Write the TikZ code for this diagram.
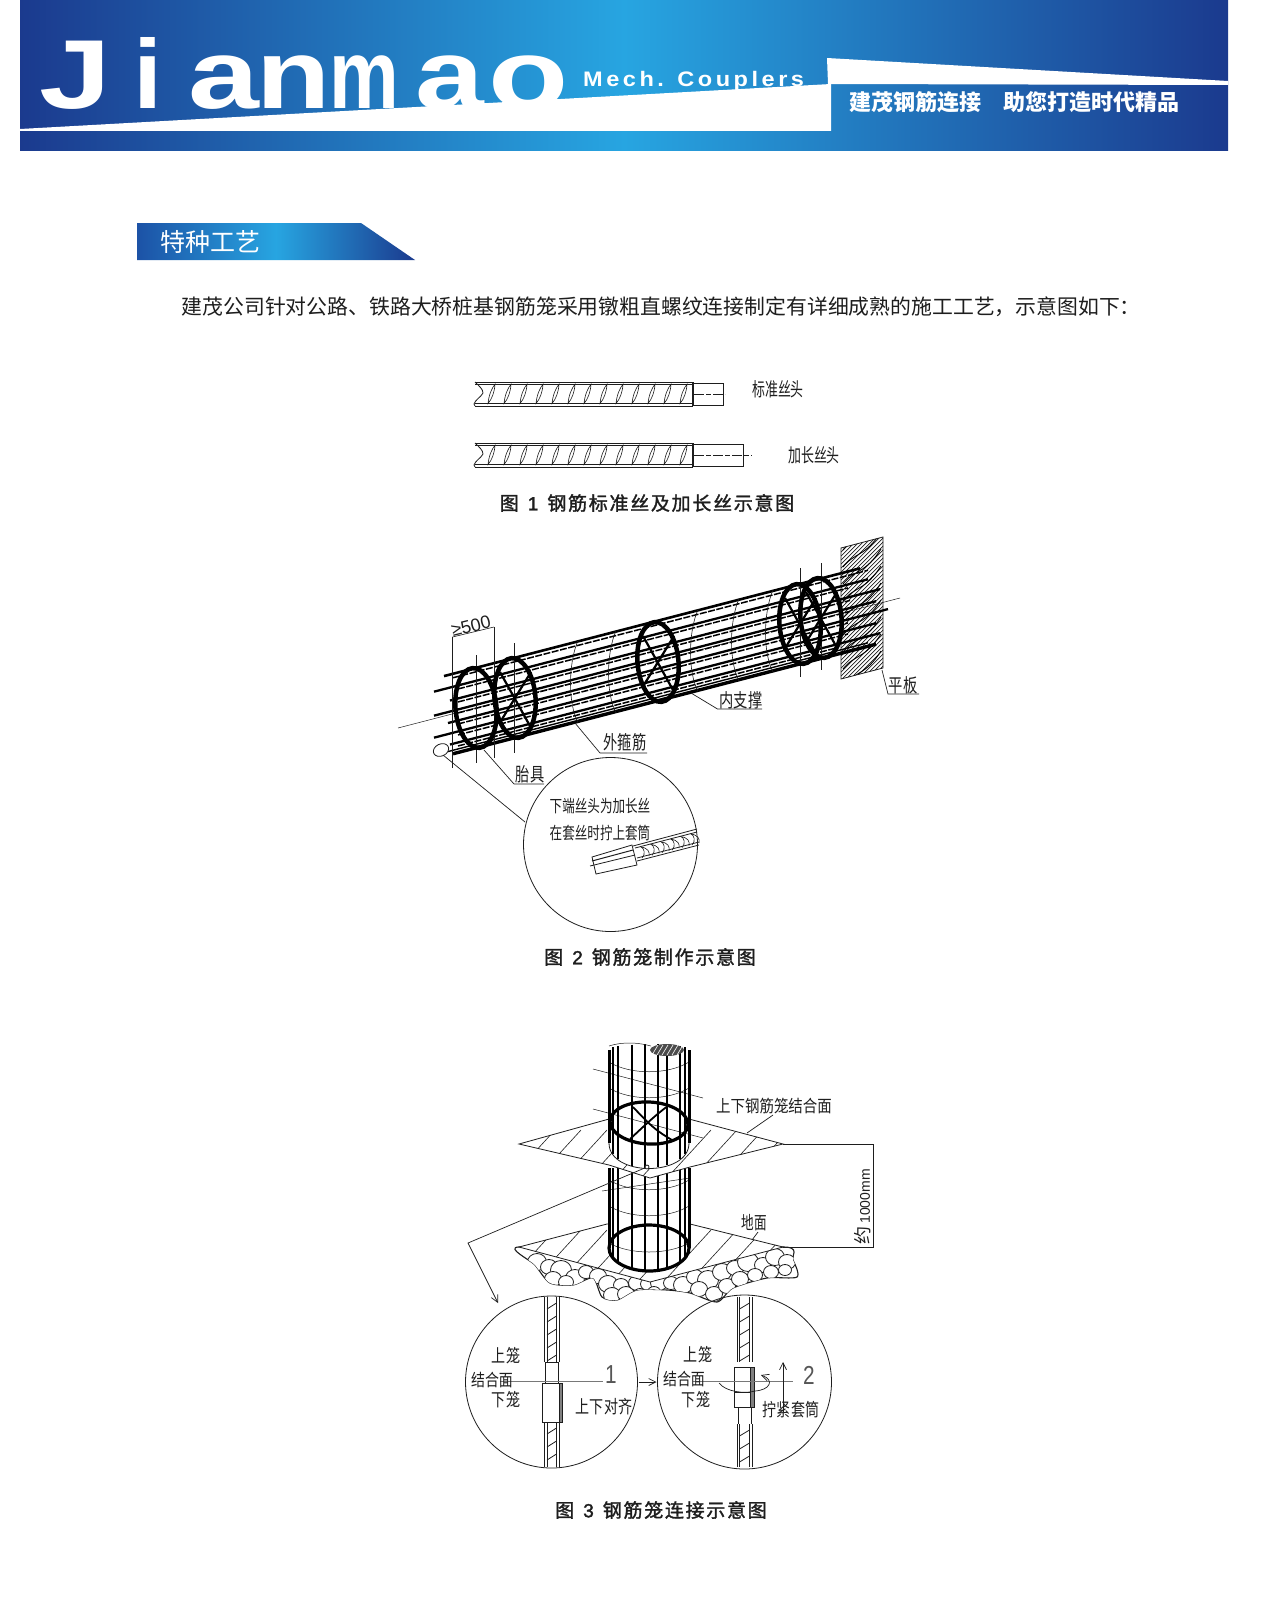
\documentclass[tikz,border=0pt]{standalone}
\usepackage{fontspec}
\usepackage{graphicx}
\usetikzlibrary{arrows.meta,calc}
\setmainfont{Liberation Sans}
\newfontfamily\cjk{Noto Sans CJK SC}
\newfontfamily\capf[LetterSpace=9,FakeBold=1.6]{Noto Sans CJK SC}
\newfontfamily\capl[FakeBold=1.6]{Liberation Sans}
\newfontfamily\mechf[LetterSpace=15]{Liberation Sans}
\definecolor{hdark}{HTML}{1B3A8E}
\definecolor{hlight}{HTML}{27A5E1}
\definecolor{tabl}{HTML}{1C52A6}
\definecolor{ink}{HTML}{1E1E1E}
\newcommand\nw[3]{\scalebox{#2}[1]{\fontsize{#1}{#1}\selectfont\cjk #3}}
\newcommand\capn[2]{图\hspace{9pt}{\capl #1}\hspace{9pt}#2}
\newcommand\fbar[3]{% y top, stub right, dash right
  \begin{scope}[shift={(0,#1)}]
    \draw[rb] (475,0) -- (693,0) (475,2.2) -- (693,2.2) (475,21.5) -- (693,21.5) (475,24) -- (693,24);
    \draw[rb] (475,0) .. controls (479,4) and (483,7) .. (483,11) .. controls (481,15) and (475,18) .. (474,22) -- (475,24);
    \foreach \i in {0,...,12}{
      \pgfmathsetmacro\xa{488+16*\i}
      \draw[rb,line width=.6pt] (\xa,21.5) .. controls (\xa+1,12) and (\xa+4,6) .. (\xa+7,2.2) .. controls (\xa+6.5,10) and (\xa+4,17) .. cycle;
    }
    \draw[line width=1.3pt,ink] (693,0) -- (693,24);
    \draw[rb] (693,1) -- (#2,1) -- (#2,23) -- (693,23);
    \draw[rb,line width=.6pt,dash pattern=on 10pt off 2pt on 5pt off 2pt] (694,12) -- (#3,12);
  \end{scope}}
\newcommand\rebarV[4]{% xl xr y1 y2 : rebar piece with ribs
  \draw[rb] (#1,#3) -- (#1,#4) (#1+2.5,#3) -- (#1+2.5,#4) (#2,#3) -- (#2,#4) (#2-2.5,#3) -- (#2-2.5,#4);
  \pgfmathsetmacro\yb{#3+9}
  \pgfmathsetmacro\yc{#3+22}
  \foreach \y in {\yb,\yc,...,#4}{\draw[rb] (#1+2.5,\y+3) -- (#2-2.5,\y-3);}
}
\tikzset{
  rb/.style={ink,line width=.8pt},
  thin line/.style={ink,line width=.5pt},
  leader/.style={ink,line width=.7pt},
  ring/.style={black,line width=4.5pt},
  ringx/.style={black,line width=2.2pt},
  vtick/.style={ink,line width=.6pt},
  mainbar/.style={black,line width=2.3pt},
  dbar/.style={black,line width=1.5pt,dash pattern=on 7pt off 1.5pt},
  captxt/.style={inner sep=0pt,text=ink,font=\capf\fontsize{19}{22}\selectfont},
  hatchl/.style={ink,line width=.6pt},
  open/.style={-{Straight Barb[length=7pt,width=7pt]}},
  lab/.style={inner sep=0pt,text=ink},
  jl/.style={inner sep=0pt,anchor=base west,text=white}
}
\begin{document}
\begin{tikzpicture}[x=1pt,y=-1pt]
\useasboundingbox (0,0) rectangle (1264,1600);
\fill[white] (0,0) rectangle (1264,1600);
%% ---- header ----
\shade[left color=hdark,right color=hdark,middle color=hlight] (20,0) rectangle (1228,150);
\foreach \nm/\xx/\sx/\ch in {j1/39/1.32/J,j2/133.5/1.07/i,j3/188/1.3/a,j4/256.5/1.24/n,j5/329.5/.8/m,j6/415/1.26/a,j7/488/1.34/o}{
  \node[jl] (\nm) at (\xx,108.5) {\scalebox{\sx}[1]{\fontsize{98}{98}\selectfont\bfseries\ch}};
}
\fill[white] (20,129) -- (831,84) -- (831,131) -- (20,131) -- cycle;
\fill[white] (827,58) -- (1228,81) -- (1228,85) -- (828,84) -- cycle;
\node[inner sep=0pt,anchor=west,text=white] (mech) at (583,81) {\scalebox{1.12}[1]{\fontsize{21}{21}\selectfont\mechf\bfseries Mech. Couplers}};
\node[inner sep=0pt,anchor=west,text=white] (sl1) at (849,102) {\fontsize{22}{22}\selectfont\cjk\bfseries 建茂钢筋连接};
\node[inner sep=0pt,anchor=west,text=white] (sl2) at (1003,102) {\fontsize{22}{22}\selectfont\cjk\bfseries 助您打造时代精品};
%% ---- tab ----
\shade[left color=tabl,right color=hdark,middle color=hlight] (137,223) -- (361,223) -- (415,260) -- (137,260) -- cycle;
\node[inner sep=0pt,anchor=west,text=white] (tab) at (160,242) {\fontsize{25}{25}\selectfont\cjk 特种工艺};
\node[inner sep=0pt,anchor=west,text=ink] (para) at (181.5,307) {\fontsize{20.85}{24}\selectfont\cjk 建茂公司针对公路、铁路大桥桩基钢筋笼采用镦粗直螺纹连接制定有详细成熟的施工工艺，示意图如下：};
%% ---- figure 1 ----
\fbar{382}{723}{725}
\fbar{443}{743}{752}
\node[lab] (f1a) at (778,389) {\nw{19}{.68}{标准丝头}};
\node[lab] (f1b) at (814,455) {\nw{19}{.68}{加长丝头}};
\node[captxt] (c1) at (647,503) {\capn{1}{钢筋标准丝及加长丝示意图}};
%% ---- figure 2 ----
\begin{scope}
  \clip (841,548) -- (883,537) -- (883,668) -- (841,679) -- cycle;
  \foreach \k in {0,4,...,180}{\draw[ink,line width=.7pt] (841,540+\k) -- +(45,-45);}
  \foreach \k in {0,17,...,150}{\draw[black,line width=.9pt] (843,550+\k) .. controls (855,535+\k) and (865,540+\k) .. (881,515+\k);}
\end{scope}
\draw[rb] (841,548) -- (883,537) -- (883,668) -- (841,679) -- cycle;
\coordinate (ax1) at (398,728); \coordinate (ax2) at (900,598);
\draw[thin line] (ax1) -- (ax2);
\begin{scope}[shift={(398,728)},x={(1pt,.259pt)},y={(0pt,-1pt)}]
  \foreach \t/\a/\b in {-27/36/470,-14/52/482,-3/36/478,8/50/490,19/36/478,30/52/482}{
    \draw[mainbar] (\a,\t) -- (\b,\t);}
  \foreach \t/\a/\b in {-23.5/60/450,-10.5/60/452,.5/60/452,11.5/60/450,22.5/60/450,33.5/60/440}{
    \draw[dbar] (\a,\t) -- (\b,\t);}
  \draw[black,line width=3.4pt] (55,40) -- (478,40);
  \draw[black,line width=1.4pt] (50,36.5) -- (470,36.5);
  \draw[black,line width=2.6pt] (46,-40) -- (462,-40);
  \draw[dbar] (55,-36) -- (470,-36);
  \foreach \s in {180,218,300,341,375}{
    \draw[ink,line width=.6pt] (\s,-41) .. controls (\s-10,-20) and (\s-10,20) .. (\s,41);}
\end{scope}
\foreach \nm/\xx/\ya/\yb in {v1/452.5/637/768,v2/476/655/763,v3/494/627/758,v4/514/643/753,v5/800/568/677,v6/821/563/670}{
  \draw[vtick] (\xx,\ya) -- (\xx,\yb);
}
\foreach \nm/\cx/\cy/\hasx in {r1/476/708/0,r2/515/698/1,r3/658/662/1,r4/800/624/1,r5/821/618/1}{
  \coordinate (\nm) at (\cx,\cy);
  \draw[ring,rotate around={5:(\nm)}] (\nm) ellipse [x radius=20.5,y radius=40];
  \ifnum\hasx=1
    \draw[ringx] ($(\nm)+(-15,-26)$) -- ($(\nm)+(15,28)$) ($(\nm)+(16,-26)$) -- ($(\nm)+(-16,26)$);
  \fi
}
\draw[vtick] (452.5,637) -- (494,627);
\node[lab,rotate=14] (d500) at (471,626) {\fontsize{18}{18}\selectfont ≥500};
% leaders
\node[lab] (l1) at (741,700) {\nw{19}{.75}{内支撑}};
\coordinate (l1a) at (691,693); \coordinate (l1b) at (717.5,709); \coordinate (l1c) at (762,709);
\draw[leader] (l1a) -- (l1b) -- (l1c);
\node[lab] (l2) at (625,742) {\nw{19}{.75}{外箍筋}};
\coordinate (l2a) at (575,723); \coordinate (l2b) at (600,753); \coordinate (l2c) at (647,753);
\draw[leader] (l2a) -- (l2b) -- (l2c);
\node[lab] (l3) at (530,774) {\nw{19}{.75}{胎具}};
\coordinate (l3a) at (484,750); \coordinate (l3b) at (514,784); \coordinate (l3c) at (544,784);
\draw[leader] (l3a) -- (l3b) -- (l3c);
\node[lab] (l4) at (903,685) {\nw{19}{.75}{平板}};
\coordinate (l4a) at (882,670); \coordinate (l4b) at (888,694); \coordinate (l4c) at (919,694);
\draw[leader] (l4a) -- (l4b) -- (l4c);
% detail circle
\coordinate (sc) at (441,750);
\draw[rb,rotate around={25:(sc)}] (sc) ellipse [x radius=8,y radius=6];
\coordinate (bc) at (610.5,844.5);
\draw[leader] (443,755) -- (525,822);
\draw[rb] (bc) circle [radius=87];
\node[lab] (t1) at (600,806) {\nw{17}{.74}{下端丝头为加长丝}};
\node[lab] (t2) at (600,833) {\nw{17}{.74}{在套丝时拧上套筒}};
\draw[rb] (633,846) -- (697,829) (635,848) -- (697,832) (637,861) -- (699,845) (637,858) -- (699,842);
\foreach \i in {0,...,5}{
  \draw[rb,line width=.6pt] (642+10*\i,858-2.6*\i) .. controls (646+10*\i,854-2.6*\i) and (644+10*\i,848-2.6*\i) .. (641+10*\i,847-2.6*\i) .. controls (648+10*\i,848-2.6*\i) and (650+10*\i,852-2.6*\i) .. (649+10*\i,856-2.6*\i);}
\draw[rb,fill=white] (592,857) -- (632,845) -- (637,865) -- (596,874) -- cycle;
\draw[line width=1pt,ink] (592,861) -- (633,850);
\draw[rb] (590,866) -- (635,855);
\node[captxt] (c2) at (650,957) {\capn{2}{钢筋笼制作示意图}};
%% ---- figure 3 ----
% gravel
\def\grav{(519,1247) (535,1265) (550,1283) (573,1285) (593,1278) (602,1297) (617,1300) (637,1290) (667,1290) (690,1293) (717,1302) (733,1288) (767,1278) (797,1277) (793,1260) (783,1247) (650,1262)}
\draw[rb,line width=1.1pt,fill=white] plot[smooth cycle,tension=.45] coordinates {\grav};
\begin{scope}
  \clip plot[smooth cycle,tension=.45] coordinates {\grav};
  \foreach \x/\y/\r in {537/1262/7,549/1267/6,561/1270/8,575/1278/7,586/1272/5,553/1279/6,566/1282/5,598/1276/6,608/1284/7,621/1285/5,612/1295/6,626/1294/6,637/1283/6,648/1284/5,659/1283/6,671/1283/5,683/1285/7,695/1277/6,708/1280/8,722/1272/7,735/1268/6,748/1262/8,763/1265/6,775/1257/7,787/1262/6,699/1289/6,714/1294/6,727/1286/6,740/1279/6,755/1275/5,771/1272/5,785/1270/4,640/1294/4,654/1292/4}{
    \draw[rb,fill=white] (\x,\y) ellipse [x radius=\r+2.5,y radius=\r+1.5];}
\end{scope}
% ground plane
\coordinate (gL) at (519,1247); \coordinate (gR) at (783,1247);
\coordinate (gB) at (650,1282); \coordinate (gT) at (650,1210);
\draw[rb,fill=white] (gL) -- (607,1224) -- (690,1224) -- (gR) -- (gB) -- cycle;
\begin{scope}
  \clip (gL) -- (607,1224) -- (690,1224) -- (gR) -- (gB) -- cycle;
  \foreach \k in {0,26,...,364}{\draw[hatchl] (500+\k,1290) -- +(55,-60);}
\end{scope}
% lower cage
\coordinate (lc) at (649,1248);
\fill[white] (609,1168) rectangle (689,1248);
\fill[white] (lc) ellipse [x radius=40,y radius=23];
\foreach \y in {1180,1206}{\draw[thin line] (609,\y) .. controls (630,\y+13) and (668,\y+13) .. (689,\y);}
\draw[thin line] (609,1243) .. controls (630,1255) and (668,1255) .. (689,1243);
\draw[thin line] (602,1191) -- (690,1178);
\foreach \x/\w in {609/3,613/1.6,618/1.6,632/1.6,645/1.8,658/1.8,667/1.6,680/1.6,685/1.5,689/3}{
  \pgfmathsetmacro\ye{1248+23*sqrt(max(0,1-((\x-649)/40)^2))}
  \draw[black,line width=\w pt] (\x,1168) -- (\x,\ye);
}
\draw[black,line width=3.2pt] (lc) ellipse [x radius=40,y radius=23];
% upper plane
\coordinate (pL) at (519,1144); \coordinate (pR) at (783,1144);
\coordinate (pB) at (650,1178);
\draw[rb,fill=white] (pL) -- (609,1119) -- (689,1119) -- (pR) -- (690,1167) -- (pB) -- (609,1165) -- cycle;
\begin{scope}
  \clip (pL) -- (609,1119) -- (689,1119) -- (pR) -- (690,1167) -- (pB) -- (609,1165) -- cycle;
  \foreach \k in {0,26,...,364}{\draw[hatchl] (500+\k,1190) -- +(55,-60);}
\end{scope}
% upper cage
\fill[white] (609,1046) -- (689,1046) -- (689,1143) .. controls (689,1177) and (609,1177) .. (609,1143) -- cycle;
\foreach \y in {1062,1088}{\draw[thin line] (609,\y) .. controls (630,\y+13) and (668,\y+13) .. (689,\y);}
\draw[thin line] (593,1069) -- (703,1098);
\draw[thin line] (593,1109) -- (703,1138);
\foreach \x/\w in {609/3,613/1.6,618/1.6,632/1.6,645/1.8,658/1.8,667/1.6,680/1.6,685/1.5,689/3}{
  \pgfmathsetmacro\ye{1143+25*sqrt(max(0,1-((\x-649)/40)^2))}
  \pgfmathsetmacro\yt{1050-6*sqrt(max(0,1-((\x-649)/40)^2))}
  \draw[black,line width=\w pt] (\x,\yt) -- (\x,\ye);
}
\draw[rb] (689,1143) .. controls (689,1177) and (609,1177) .. (609,1143);
\coordinate (mc) at (649,1123);
\draw[black,line width=3.2pt,rotate around={-3:(mc)}] (mc) ellipse [x radius=39,y radius=21];
\draw[black,line width=1.8pt] (633,1107) .. controls (650,1125) and (655,1130) .. (672,1140) (668,1106) .. controls (655,1115) and (640,1130) .. (630,1139);
\fill[black!70] (667,1050) ellipse [x radius=17,y radius=6];
\foreach \k in {0,5,...,25}{\draw[white,line width=.6pt] (652+\k,1055) -- +(6,-10);}
\draw[thin line] (609,1046) .. controls (625,1041) and (640,1043) .. (651,1046);
% labels fig 3
\node[lab] (u1) at (774,1106) {\nw{17}{.85}{上下钢筋笼结合面}};
\coordinate (u1a) at (747,1133); \coordinate (u1b) at (773,1115);
\draw[leader] (u1a) -- (u1b);
\node[lab] (u2) at (754,1223) {\nw{18}{.7}{地面}};
\coordinate (u2a) at (752,1240); \coordinate (u2b) at (758,1232);
\draw[leader] (u2a) -- (u2b);
\coordinate (dr1) at (873,1144); \coordinate (dr2) at (873,1247);
\draw[rb] (pR) -- (dr1) -- (dr2) -- (gR);
\node[lab,rotate=90] (dim) at (863,1207) {\fontsize{18}{18}\selectfont\cjk 约\,\fontsize{14}{14}\selectfont\rmfamily 1000mm};
\coordinate (ar0) at (647,1167); \coordinate (ar1) at (468,1243); \coordinate (ar2) at (498,1303);
\draw[leader,open] (ar0) -- (ar1) -- (ar2);
\draw[rb,fill=white] (ar0) circle [radius=2];
% detail circles
\coordinate (ca) at (551.5,1382); \coordinate (cb) at (744.5,1382);
\draw[rb] (ca) circle [radius=86];
\draw[rb] (cb) circle [radius=87];
\draw[leader,open] ($(ca)+(87,0)$) -- ($(cb)+(-88,0)$);
% rebars A
\rebarV{544.5}{559}{1297}{1362}
\draw[rb] (545.5,1362) -- (545.5,1383) (558,1362) -- (558,1383) (544.5,1362) -- (559,1362);
\rebarV{544.5}{559}{1422}{1467}
\draw[rb,fill=white] (542,1383) rectangle (559,1422);
\fill[black!50] (559,1383) rectangle (562,1422);
\draw[rb] (559,1383) rectangle (562,1422);
\draw[thin line,ink!60] (500,1381) -- (603,1381);
\node[lab] (a1) at (506,1356) {\nw{18}{.78}{上笼}};
\node[lab] (a2) at (492,1380) {\nw{17}{.82}{结合面}};
\node[lab] (a3) at (506,1400) {\nw{18}{.78}{下笼}};
\node[lab,text=ink!75] (a4) at (611,1375) {\scalebox{.8}[1]{\fontsize{26}{26}\selectfont 1}};
\node[lab] (a5) at (604,1407) {\nw{18}{.78}{上下对齐}};
% rebars B
\rebarV{737}{752}{1297}{1362}
\rebarV{737}{752}{1424}{1467}
\draw[rb] (738,1407) -- (738,1424) (751,1407) -- (751,1424);
\draw[rb,fill=white] (734,1367) rectangle (750,1407);
\draw[rb] (734,1392) -- (750,1392);
\fill[black!50] (750,1367) rectangle (754,1407);
\draw[rb] (750,1367) rectangle (754,1407);
\draw[thin line,ink!60] (693,1381) -- (793,1381);
\draw[leader,open] (719,1383) .. controls (726,1392) and (745,1394) .. (755,1391) .. controls (770,1390) and (775,1380) .. (761,1375);
\coordinate (up1) at (783,1412); \coordinate (up2) at (783,1362);
\draw[leader,open] (up1) -- (up2);
\node[lab] (b1) at (698,1355) {\nw{18}{.78}{上笼}};
\node[lab] (b2) at (684,1379) {\nw{17}{.82}{结合面}};
\node[lab] (b3) at (696,1400) {\nw{18}{.78}{下笼}};
\node[lab,text=ink!75] (b4) at (809,1375) {\scalebox{.8}[1]{\fontsize{26}{26}\selectfont 2}};
\node[lab] (b5) at (791,1410) {\nw{18}{.78}{拧紧套筒}};
\node[captxt] (c3) at (661,1510) {\capn{3}{钢筋笼连接示意图}};
\end{tikzpicture}
\end{document}
